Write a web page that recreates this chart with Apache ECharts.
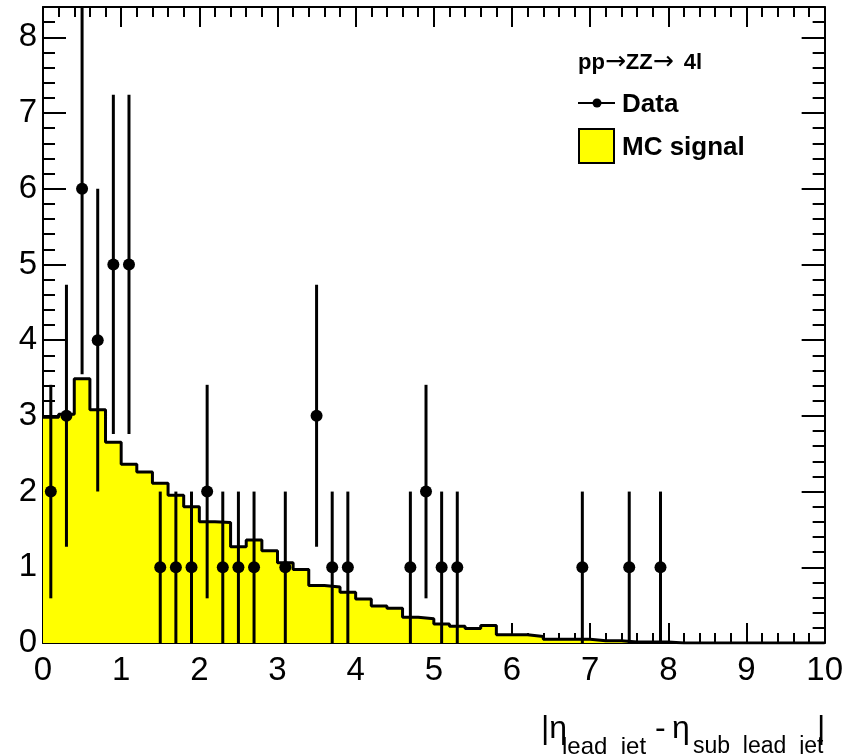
<!DOCTYPE html>
<html>
<head>
    <meta charset="utf-8"/>
    <title>ECharts</title>
    <script src="https://cdn.jsdelivr.net/npm/echarts@6/dist/echarts.min.js"></script>
    <style>html, body { margin: 0; padding: 0; background: #fff; }</style>
</head>
<body>
<div id="main" style="width: 846px;height:754px;"></div>
<script type="text/javascript">
    // MC signal histogram: 50 bins of width 0.2 between 0 and 10
    var binWidth = 0.2;
    var mcSignal = [2.98, 3.02, 3.49, 3.08, 2.65, 2.36, 2.26, 2.11, 1.95, 1.80,
                    1.60, 1.59, 1.27, 1.36, 1.22, 1.06, 0.97, 0.76, 0.74, 0.67,
                    0.58, 0.49, 0.46, 0.34, 0.32, 0.25, 0.22, 0.19, 0.23, 0.11,
                    0.11, 0.085, 0.05, 0.05, 0.05, 0.03, 0.03, 0.013, 0.013, 0.013,
                    0, 0, 0, 0, 0, 0, 0, 0, 0, 0];

    // data points (bin centre, entries, error)
    var dataX   = [0.1, 0.3, 0.5, 0.7, 0.9, 1.1, 1.5, 1.7, 1.9, 2.1, 2.3, 2.5, 2.7,
                   3.1, 3.5, 3.7, 3.9, 4.7, 4.9, 5.1, 5.3, 6.9, 7.5, 7.9];
    var dataY   = [2, 3, 6, 4, 5, 5, 1, 1, 1, 2, 1, 1, 1,
                   1, 3, 1, 1, 1, 2, 1, 1, 1, 1, 1];
    var dataErr = [1.41, 1.73, 2.45, 2, 2.24, 2.24, 1, 1, 1, 1.41, 1, 1, 1,
                   1, 1.73, 1, 1, 1, 1.41, 1, 1, 1, 1, 1];

    var xTickLabels = ['0', '1', '2', '3', '4', '5', '6', '7', '8', '9', '10'];
    var yTickLabels = ['0', '1', '2', '3', '4', '5', '6', '7', '8'];
    var yMax = 8.4;

    var font = 'Liberation Sans, Arial, Helvetica, sans-serif';

    var histPoints = [];
    for (var i = 0; i < mcSignal.length; i++) {
        histPoints.push([i * binWidth, mcSignal[i]]);
    }
    histPoints.push([mcSignal.length * binWidth, mcSignal[mcSignal.length - 1]]);

    var dataPoints = [];
    for (var j = 0; j < dataX.length; j++) {
        dataPoints.push([dataX[j], dataY[j], dataErr[j]]);
    }

    var tickStyle = { color: '#000', width: 2 };

    function xAxisCfg(pos, labels) {
        return {
            type: 'value', position: pos, min: 0, max: 10, interval: 1,
            axisLine: { show: true, onZero: false, lineStyle: tickStyle },
            axisTick: { show: true, inside: true, length: 20, lineStyle: tickStyle },
            minorTick: { show: true, splitNumber: 5, length: 10, lineStyle: tickStyle },
            axisLabel: {
                show: labels, margin: 11, color: '#000', fontFamily: font, fontSize: 33,
                formatter: function (v) { return xTickLabels[Math.round(v)]; }
            },
            splitLine: { show: false }
        };
    }

    function yAxisCfg(pos, step, len, labels, line) {
        return {
            type: 'value', position: pos, min: 0, max: yMax, interval: step,
            axisLine: { show: line, onZero: false, lineStyle: tickStyle },
            axisTick: { show: true, inside: true, length: len, lineStyle: tickStyle },
            axisLabel: {
                show: labels, margin: 6, color: '#000', fontFamily: font, fontSize: 33,
                showMaxLabel: false,
                formatter: function (v) { return yTickLabels[Math.round(v)] || ''; }
            },
            splitLine: { show: false }
        };
    }

    var myChart = echarts.init(document.getElementById('main'));
    var option = {
        animation: false,
        backgroundColor: '#fff',
        grid: { left: 43, top: 7, width: 783, height: 636 },
        xAxis: [xAxisCfg('bottom', true), xAxisCfg('top', false)],
        yAxis: [
            yAxisCfg('left', 1, 23, true, true),
            yAxisCfg('left', 0.2, 12, false, false),
            yAxisCfg('right', 1, 23, false, true),
            yAxisCfg('right', 0.2, 12, false, false)
        ],
        series: [
            {
                name: 'MC signal',
                type: 'line',
                step: 'end',
                data: histPoints,
                showSymbol: false,
                lineStyle: { color: '#000', width: 3 },
                areaStyle: { color: '#ffff00', opacity: 1 },
                z: 1
            },
            {
                name: 'Data errors',
                type: 'custom',
                data: dataPoints,
                renderItem: function (params, api) {
                    var x = api.value(0), y = api.value(1), e = api.value(2);
                    var top = api.coord([x, Math.min(y + e, yMax)]);
                    var bot = api.coord([x, Math.max(y - e, 0)]);
                    return {
                        type: 'line',
                        shape: { x1: top[0], y1: top[1], x2: bot[0], y2: bot[1] },
                        style: { stroke: '#000', lineWidth: 3 }
                    };
                },
                z: 3
            },
            {
                name: 'Data',
                type: 'scatter',
                data: dataPoints,
                symbol: 'circle',
                symbolSize: 12,
                itemStyle: { color: '#000', opacity: 1 },
                z: 4
            }
        ],
        graphic: [
            { type: 'text', left: 578, top: 50, z: 10,
              style: {
                  text: '{t|pp}{a|\u2192}{t|ZZ}{a|\u2192}{u|4l}',
                  rich: {
                      t: { fontFamily: font, fontWeight: 'bold', fontSize: 22, fill: '#000' },
                      u: { fontFamily: font, fontWeight: 'bold', fontSize: 22, fill: '#000',
                           padding: [0, 0, 0, 10] },
                      a: { fontFamily: 'DejaVu Sans', fontSize: 25, fill: '#000' }
                  }
              } },
            { type: 'line', z: 10, shape: { x1: 578, y1: 103, x2: 615, y2: 103 },
              style: { stroke: '#000', lineWidth: 2 } },
            { type: 'circle', z: 10, shape: { cx: 597, cy: 103, r: 4.5 }, style: { fill: '#000' } },
            { type: 'text', left: 622, top: 92, z: 10,
              style: { text: 'Data', font: 'bold 26px ' + font, fill: '#000' } },
            { type: 'rect', z: 10, shape: { x: 579, y: 129, width: 35, height: 34 },
              style: { fill: '#ffff00', stroke: '#000', lineWidth: 2 } },
            { type: 'text', left: 622, top: 135, z: 10,
              style: { text: 'MC signal', font: 'bold 26px ' + font, fill: '#000' } },

            { type: 'text', left: 541, top: 713, z: 10,
              style: { text: '|\u03b7', font: '32px ' + font, fill: '#000' } },
            { type: 'text', left: 562, top: 735, z: 10,
              style: { text: 'lead  jet', font: '24px ' + font, fill: '#000' } },
            { type: 'text', left: 655, top: 713, z: 10,
              style: { text: '-', font: '32px ' + font, fill: '#000' } },
            { type: 'text', left: 672, top: 713, z: 10,
              style: { text: '\u03b7', font: '32px ' + font, fill: '#000' } },
            { type: 'text', left: 693, top: 735, z: 10,
              style: { text: 'sub  lead  jet', font: '23px ' + font, fill: '#000' } },
            { type: 'text', left: 817, top: 713, z: 10,
              style: { text: '|', font: '32px ' + font, fill: '#000' } }
        ]
    };
    myChart.setOption(option);
</script>
</body>
</html>
